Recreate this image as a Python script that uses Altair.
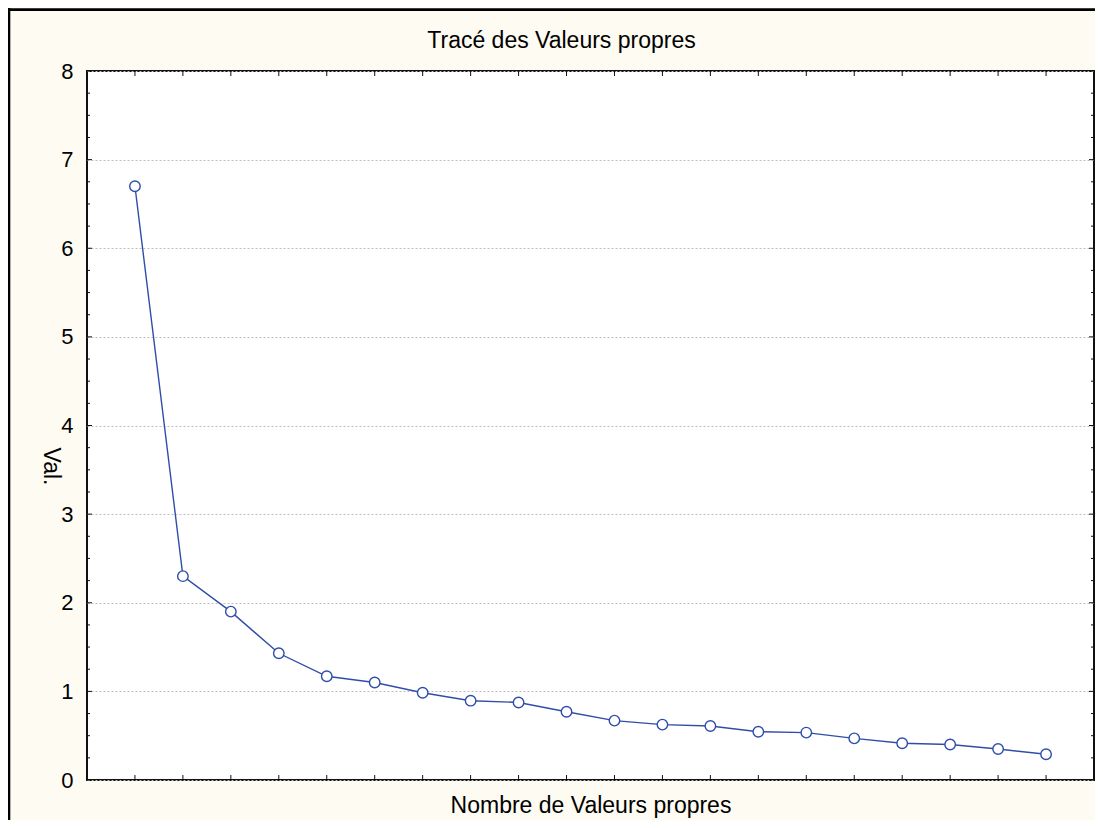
import altair as alt
import pandas as pd

# ---- data ----
idx = list(range(1, 21))
eigen = [6.70, 2.30, 1.90, 1.43, 1.17, 1.10, 0.985, 0.895, 0.875, 0.77,
         0.67, 0.625, 0.61, 0.545, 0.535, 0.47, 0.415, 0.40, 0.35, 0.29]
y_major = [0, 1, 2, 3, 4, 5, 6, 7, 8]
y_minor = [q / 4 for q in range(33) if q % 4]
title_text = "Tracé des Valeurs propres"
x_title = "Nombre de Valeurs propres"
y_title = "Val."

W, H = 1007, 709
FONT = "Liberation Sans"
BLUE = "#2F4EA8"
CREAM = "#FEFBF2"

df = pd.DataFrame({"x": idx, "y": eigen})
ymaj_df = pd.DataFrame({"y": y_major})
ymin_df = pd.DataFrame({"y": y_minor})
xt_df = pd.DataFrame({"x": idx})
one = pd.DataFrame({"k": [0]})
tdf = pd.DataFrame({"t": [title_text]})

xs = alt.Scale(domain=[0, 21], nice=False, zero=False)
ys = alt.Scale(domain=[0, 8], nice=False)

x_axis = alt.Axis(labels=False, ticks=False, domain=False, grid=False,
                  title=x_title, titleFont=FONT, titleFontSize=23,
                  titleFontWeight="normal", titleColor="black",
                  titleBaseline="alphabetic", titleY=32)
y_axis = alt.Axis(values=y_major, ticks=False, domain=False, grid=True,
                  gridColor="#BDBDBD", gridDash=[2, 2], gridWidth=1,
                  labelFont=FONT, labelFontSize=22, labelColor="black",
                  labelPadding=14, title=y_title, titleFont=FONT,
                  titleFontSize=23, titleFontWeight="normal", titleColor="black",
                  titleAngle=90, titleAlign="center", titleBaseline="middle",
                  titleX=-37, titleY=395)

X = alt.X("x:Q", scale=xs, axis=x_axis)
Y = alt.Y("y:Q", scale=ys, axis=y_axis)

line = alt.Chart(df).mark_line(color=BLUE, strokeWidth=1.4).encode(x=X, y=Y)
pts = alt.Chart(df).mark_point(shape="circle", filled=True, fill="white",
                               stroke=BLUE, strokeWidth=1.4, size=110,
                               opacity=1).encode(x=X, y=Y)

tick_style = dict(color="#111111", strokeWidth=1)
yl_major = alt.Chart(ymaj_df).mark_rule(**tick_style).encode(y=Y, x=alt.value(0), x2=alt.value(5))
yr_major = alt.Chart(ymaj_df).mark_rule(**tick_style).encode(y=Y, x=alt.value(W - 5), x2=alt.value(W))
yl_minor = alt.Chart(ymin_df).mark_rule(**tick_style).encode(y=Y, x=alt.value(0), x2=alt.value(3))
yr_minor = alt.Chart(ymin_df).mark_rule(**tick_style).encode(y=Y, x=alt.value(W - 3), x2=alt.value(W))
xb = alt.Chart(xt_df).mark_rule(**tick_style).encode(x=X, y=alt.value(H - 5), y2=alt.value(H))
xtop = alt.Chart(xt_df).mark_rule(**tick_style).encode(x=X, y=alt.value(0), y2=alt.value(5))

# outer frame (left and top edges visible)
frame_v = alt.Chart(one).mark_rule(color="black", strokeWidth=2.6).encode(
    x=alt.value(-78), y=alt.value(-70), y2=alt.value(H + 120))
frame_h = alt.Chart(one).mark_rule(color="black", strokeWidth=2.6).encode(
    y=alt.value(-61.4), x=alt.value(-90), x2=alt.value(W + 60))

title = alt.Chart(tdf).mark_text(font=FONT, fontSize=23, color="black",
                                 align="center", baseline="alphabetic").encode(
    text="t:N", x=alt.value(474.5), y=alt.value(-23))

chart = alt.layer(
    frame_v, frame_h, title, line, pts,
    yl_major, yr_major, yl_minor, yr_minor, xb, xtop
).properties(
    width=W, height=H,
    padding={"left": 79, "top": 63, "right": 1, "bottom": 40},
    autosize=alt.AutoSizeParams(type="none"),
    background=CREAM,
).configure_view(stroke="#111111", strokeWidth=2, fill="white")

chart.save("out.html", embed_options={"renderer": "svg", "actions": False})
